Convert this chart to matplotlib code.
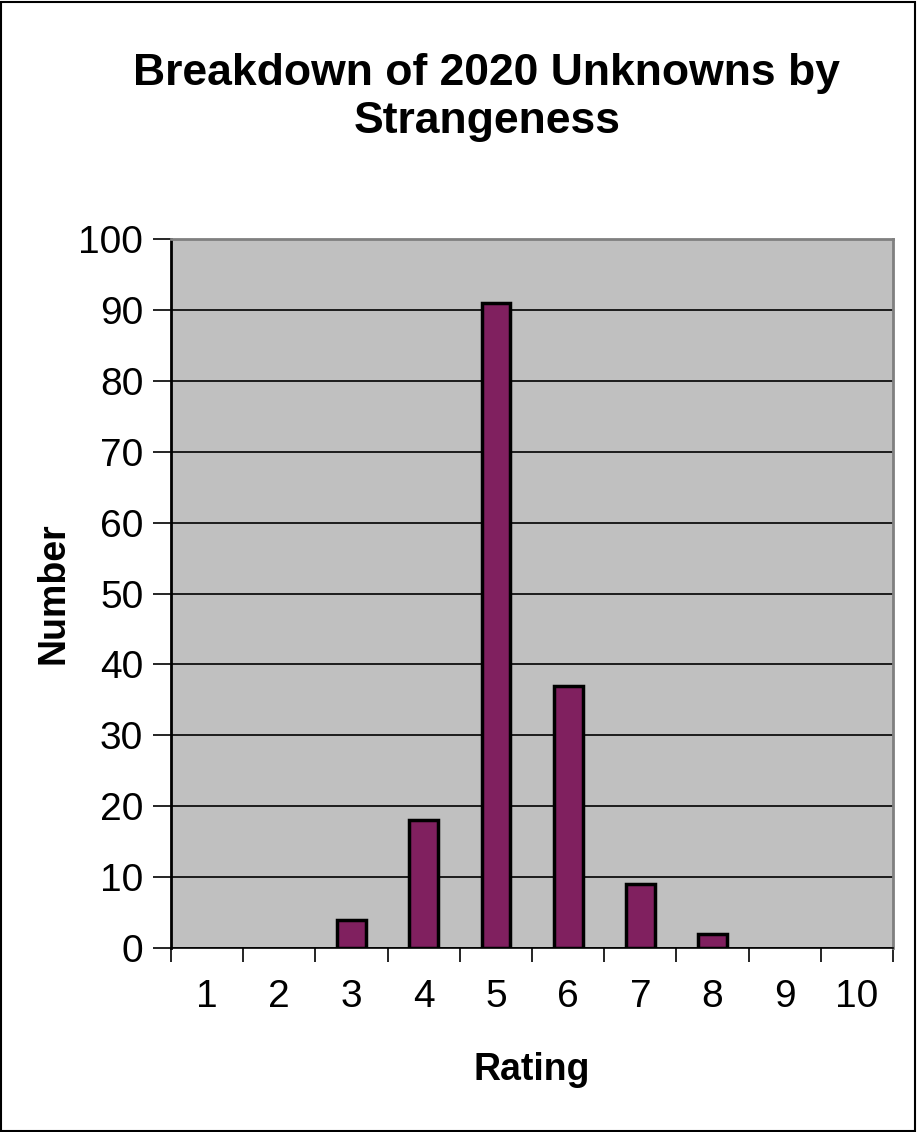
import numpy as np
import matplotlib.pyplot as plt
from matplotlib.patches import Rectangle

plt.rcParams['font.family'] = ['Liberation Sans', 'DejaVu Sans']

ratings = [1, 2, 3, 4, 5, 6, 7, 8, 9, 10]
counts = [0, 0, 4, 18, 91, 37, 9, 2, 0, 0]
rating_labels = [str(r) for r in ratings]

fig = plt.figure(figsize=(9.17, 11.32), dpi=100)
ax = fig.add_axes([0.1865, 0.1625, 0.7874, 0.6263])
ax.set_facecolor('#c0c0c0')

# empty categories get no bar outline (as in the original)
lw = [2.5 if c > 0 else 0 for c in counts]
ax.bar(ratings, counts, width=0.4, color='#80205f', edgecolor='black',
       linewidth=lw, zorder=3)

ax.set_xlim(0.5, 10.5)
ax.set_ylim(0, 100)
ax.set_yticks(np.arange(0, 101, 10))
ax.yaxis.grid(True, color='black', linewidth=1.2, zorder=1)
ax.set_axisbelow(True)

# ticks at category borders, labels in the middle
ax.set_xticks(np.arange(0.5, 10.6, 1))
ax.set_xticklabels([])
ax.set_xticks(ratings, minor=True)
ax.set_xticklabels(rating_labels, minor=True)
ax.tick_params(axis='x', which='major', length=10, width=1.2, direction='out')
ax.tick_params(axis='x', which='minor', length=0, pad=22, labelsize=28)
ax.tick_params(axis='y', length=13, width=1.2, direction='out', pad=7, labelsize=28)

ax.spines['left'].set_color('black')
ax.spines['left'].set_linewidth(2)
for s in ['top', 'right']:
    ax.spines[s].set_color('#808080')
    ax.spines[s].set_linewidth(2)
ax.spines['bottom'].set_color('black')
ax.spines['bottom'].set_linewidth(1.2)

ax.set_xlabel('Rating', fontsize=27, fontweight='bold', labelpad=27)
ax.set_ylabel('Number', fontsize=27, fontweight='bold', labelpad=5)

fig.text(0.531, 0.914, 'Breakdown of 2020 Unknowns by\nStrangeness',
         ha='center', va='center', fontsize=32, fontweight='bold',
         linespacing=1.2)

fig.patches.append(Rectangle((0.001, 0.001), 0.997, 0.997, transform=fig.transFigure,
                             fill=False, edgecolor='black', linewidth=1.5))

fig.savefig('out.png', dpi=100)
